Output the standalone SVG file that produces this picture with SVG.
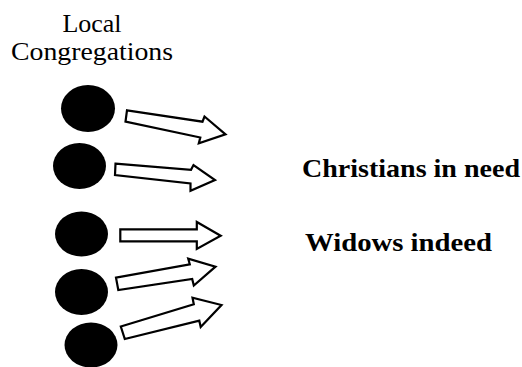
<svg xmlns="http://www.w3.org/2000/svg" width="522" height="367" viewBox="0 0 522 367">
<style>
.dot{fill:#000;}
.arr{fill:#fff;stroke:#000;stroke-width:2.2;stroke-linejoin:miter;}
.t{font-family:"Liberation Serif","DejaVu Serif",serif;font-size:26px;fill:#000;}
.b{font-weight:bold;}
</style>
<rect width="522" height="367" fill="#fff"/>
<g id="label-local">
<text class="t" x="92" y="31.5" text-anchor="middle">Local</text>
<text class="t" x="92" y="60" text-anchor="middle" textLength="162" lengthAdjust="spacingAndGlyphs">Congregations</text>
</g>
<g id="congregation-1"><ellipse class="dot" cx="88" cy="108.5" rx="27" ry="23.5"/></g>
<g id="congregation-2"><ellipse class="dot" cx="79.5" cy="166" rx="26.5" ry="23"/></g>
<g id="congregation-3"><ellipse class="dot" cx="81.5" cy="234" rx="26.5" ry="22.5"/></g>
<g id="congregation-4"><ellipse class="dot" cx="81.5" cy="292" rx="26.5" ry="23"/></g>
<g id="congregation-5"><ellipse class="dot" cx="91" cy="345" rx="26.5" ry="22.5"/></g>
<g id="connectors">
<polygon class="arr" points="127,110.3 202.5,121.7 204.5,116.5 225.5,134.3 198.8,143.3 200.3,137.5 125.5,121.7"/>
<polygon class="arr" points="115.5,163.7 191,169.8 193.5,165 215,180 190.5,190.7 190.5,183.5 115,175"/>
<polygon class="arr" points="120.3,229.3 196.8,229.3 196.8,222 220.7,235.7 196.8,249 196.8,241.3 120.3,241.3"/>
<polygon class="arr" points="116,277.7 189.8,264.3 188.2,258.7 215.5,266.7 193.8,285.5 192.2,279 118.3,290"/>
<polygon class="arr" points="120.8,326.5 193.8,304.3 192.5,297.7 221.5,305 200.7,327 199.3,320.7 124.8,339"/>
</g>
<g id="christians-in-need">
<text class="t b" x="302" y="177" textLength="218" lengthAdjust="spacingAndGlyphs">Christians in need</text>
</g>
<g id="widows-indeed">
<text class="t b" x="305" y="251" textLength="187" lengthAdjust="spacingAndGlyphs">Widows indeed</text>
</g>
</svg>
